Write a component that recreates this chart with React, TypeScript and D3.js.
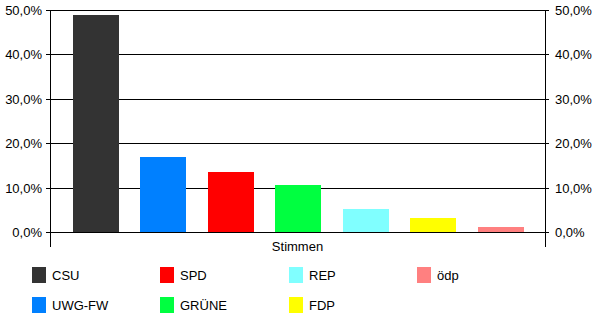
import React from "react";
import * as d3 from "d3";

const parties = ["CSU", "UWG-FW", "SPD", "GRÜNE", "REP", "FDP", "ödp"];
const shares = [0.489, 0.170, 0.136, 0.107, 0.052, 0.032, 0.012];
const colors = ["#333333", "#0080FF", "#FF0000", "#00FF40", "#80FFFF", "#FFFF00", "#FF8080"];
const yTicks = [0, 0.1, 0.2, 0.3, 0.4, 0.5];
const categoryLabel = "Stimmen";

const W = 600;
const H = 326;
const left = 50;
const right = 545;
const top = 10.5;
const bottom = 232.5;

const fmt = (v: number) => (v * 100).toFixed(1).replace(".", ",") + "%";

export default function App() {
  const x = d3.scaleBand<string>().domain(parties).range([left + 1, right]).paddingInner(0.32).paddingOuter(0.32);
  const y = d3.scaleLinear().domain([0, 0.5]).range([bottom, top]);
  const font = "'Liberation Sans', Arial, sans-serif";
  const legendCols = [32, 160, 289, 417];
  const legendRows = [275, 305];

  return (
    <svg width={W} height={H} style={{ position: "absolute", left: 0, top: 0, background: "#fff" }} fontFamily={font}>
      {yTicks.map((t) => {
        const yy = Math.floor(y(t)) + 0.5;
        return (
          <g key={t}>
            <line x1={left - 4} x2={right + 4} y1={yy} y2={yy} stroke="#000" />
            <text x={42} y={yy} dy="0.35em" textAnchor="end" fontSize={13} fill="#000">{fmt(t)}</text>
            <text x={555} y={yy} dy="0.35em" textAnchor="start" fontSize={13} fill="#000">{fmt(t)}</text>
          </g>
        );
      })}
      <line x1={left + 0.5} x2={left + 0.5} y1={top - 0.5} y2={247} stroke="#000" />
      <line x1={right + 0.5} x2={right + 0.5} y1={top - 0.5} y2={247} stroke="#000" />
      {parties.map((p, i) => (
        <rect key={p} x={Math.round(x(p)!)} width={Math.round(x.bandwidth())} y={Math.round(y(shares[i]))} height={Math.floor(y(0)) - Math.round(y(shares[i]))} fill={colors[i]} />
      ))}
      <text x={(left + right) / 2} y={251} textAnchor="middle" fontSize={13} fill="#000">{categoryLabel}</text>
      {parties.map((p, i) => {
        const col = Math.floor(i / 2);
        const row = i % 2;
        const cx = legendCols[col];
        const cy = legendRows[row];
        return (
          <g key={"lg" + p}>
            <rect x={cx} y={cy - 8} width={14} height={16} fill={colors[i]} />
            <text x={cx + 20} y={cy} dy="0.35em" fontSize={13} fill="#000">{p}</text>
          </g>
        );
      })}
    </svg>
  );
}
